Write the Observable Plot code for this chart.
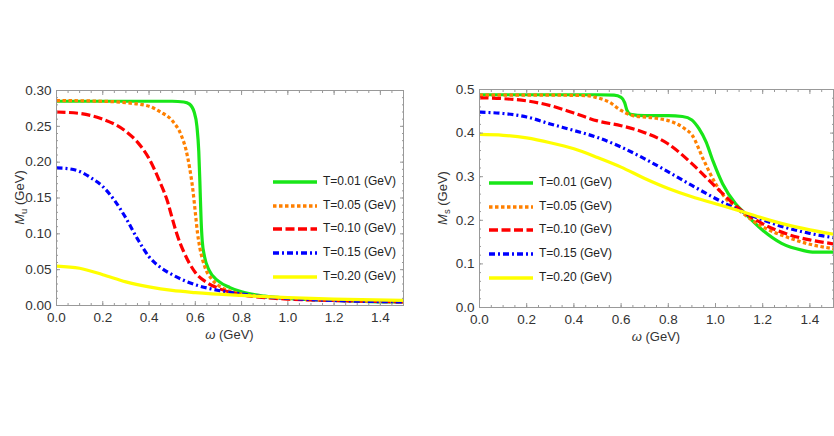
<!DOCTYPE html>
<html>
<head>
<meta charset="utf-8">
<script src="https://cdn.jsdelivr.net/npm/d3@7"></script>
<script src="https://cdn.jsdelivr.net/npm/@observablehq/plot@0.6"></script>
<style>
  html, body { margin: 0; padding: 0; background: #fff; }
  #wrap { position: relative; width: 834px; height: 436px; overflow: hidden; font-family: "Liberation Sans", Arial, sans-serif; }
  .panel { position: absolute; top: 0; }
  .legend { position: absolute; font-size: 12px; color: #222; }
  .legend .row { position: absolute; left: 0; height: 14px; white-space: nowrap; }
  .legend svg { position: absolute; left: 0; top: 0; }
  .legend span { position: absolute; top: -1px; line-height: 14px; }
</style>
</head>
<body>
<div id="wrap"></div>
<script>
// ---------- data ----------
const legendLabels = ["T=0.01 (GeV)", "T=0.05 (GeV)", "T=0.10 (GeV)", "T=0.15 (GeV)", "T=0.20 (GeV)"];
const seriesColors = ["#18e618", "#ff8000", "#ff0000", "#0000ff", "#ffff00"];
const seriesDash = [null, "3.5,2.5", "9,3.5", "6,3,2,3", null];

const xTicks = [0, 0.2, 0.4, 0.6, 0.8, 1.0, 1.2, 1.4];
const muTicks = [0, 0.05, 0.10, 0.15, 0.20, 0.25, 0.30];
const msTicks = [0, 0.1, 0.2, 0.3, 0.4, 0.5];

// M_u (GeV) vs omega (GeV)
const mu_T001 = [[0,0.285],[0.3,0.285],[0.5,0.285],[0.55,0.284],[0.575,0.281],[0.595,0.27],[0.607,0.25],[0.615,0.215],[0.62,0.17],[0.625,0.12],[0.63,0.09],[0.64,0.068],[0.66,0.049],[0.7,0.034],[0.75,0.025],[0.8,0.019],[0.9,0.013],[1.0,0.010],[1.1,0.008],[1.2,0.007],[1.3,0.006],[1.4,0.005],[1.5,0.005]];
const mu_T005 = [[0,0.286],[0.2,0.285],[0.3,0.283],[0.4,0.278],[0.45,0.27],[0.5,0.258],[0.54,0.237],[0.56,0.217],[0.575,0.193],[0.59,0.16],[0.6,0.13],[0.61,0.1],[0.62,0.08],[0.64,0.055],[0.67,0.037],[0.7,0.028],[0.76,0.019],[0.8,0.016],[0.9,0.012],[1.0,0.0095],[1.2,0.007],[1.5,0.005]];
const mu_T010 = [[0,0.270],[0.1,0.268],[0.2,0.26],[0.3,0.243],[0.35,0.228],[0.4,0.205],[0.45,0.17],[0.48,0.145],[0.5,0.122],[0.52,0.1],[0.55,0.075],[0.6,0.046],[0.65,0.032],[0.7,0.024],[0.8,0.015],[0.9,0.011],[1.0,0.009],[1.2,0.007],[1.5,0.005]];
const mu_T015 = [[0,0.192],[0.05,0.191],[0.1,0.187],[0.15,0.178],[0.2,0.166],[0.25,0.147],[0.3,0.122],[0.35,0.093],[0.4,0.068],[0.45,0.053],[0.5,0.043],[0.6,0.029],[0.7,0.021],[0.8,0.016],[0.9,0.012],[1.0,0.010],[1.2,0.007],[1.5,0.005]];
const mu_T020 = [[0,0.055],[0.1,0.052],[0.2,0.043],[0.3,0.033],[0.4,0.026],[0.5,0.021],[0.6,0.018],[0.8,0.014],[1.0,0.011],[1.2,0.009],[1.5,0.007]];

// M_s (GeV) vs omega (GeV)
const ms_T001 = [[0,0.488],[0.3,0.488],[0.5,0.488],[0.57,0.487],[0.6,0.482],[0.615,0.47],[0.625,0.452],[0.64,0.443],[0.7,0.44],[0.8,0.44],[0.86,0.438],[0.9,0.43],[0.93,0.41],[0.96,0.38],[0.99,0.335],[1.03,0.284],[1.085,0.238],[1.13,0.213],[1.2,0.177],[1.28,0.147],[1.37,0.131],[1.42,0.127],[1.5,0.127]];
const ms_T005 = [[0,0.487],[0.3,0.487],[0.45,0.486],[0.5,0.481],[0.55,0.471],[0.6,0.452],[0.65,0.44],[0.75,0.434],[0.82,0.425],[0.87,0.41],[0.9,0.396],[0.95,0.338],[1.0,0.284],[1.05,0.246],[1.1,0.223],[1.2,0.185],[1.3,0.162],[1.4,0.145],[1.5,0.135]];
const ms_T010 = [[0,0.481],[0.1,0.479],[0.2,0.474],[0.3,0.463],[0.4,0.446],[0.5,0.428],[0.6,0.417],[0.7,0.401],[0.8,0.375],[0.9,0.33],[1.0,0.277],[1.1,0.227],[1.2,0.192],[1.3,0.169],[1.4,0.155],[1.5,0.146]];
const ms_T015 = [[0,0.448],[0.1,0.445],[0.2,0.437],[0.3,0.421],[0.4,0.406],[0.5,0.39],[0.6,0.368],[0.7,0.341],[0.8,0.311],[0.9,0.28],[1.0,0.25],[1.1,0.223],[1.2,0.201],[1.3,0.183],[1.4,0.17],[1.5,0.16]];
const ms_T020 = [[0,0.397],[0.1,0.395],[0.2,0.389],[0.3,0.378],[0.4,0.364],[0.5,0.344],[0.6,0.322],[0.7,0.296],[0.8,0.273],[0.9,0.254],[1.0,0.238],[1.1,0.222],[1.2,0.205],[1.3,0.19],[1.4,0.178],[1.5,0.168]];

const muSeries = [mu_T001, mu_T005, mu_T010, mu_T015, mu_T020];
const msSeries = [ms_T001, ms_T005, ms_T010, ms_T015, ms_T020];

// ---------- drawing ----------
const wrap = document.getElementById("wrap");
const tickColor = "#999";
const labelColor = "#333";

function makePanel({series, yDomain, yTicks, yMinorStep, yFmt, left, margins}) {
  const xMinor = d3.range(0, 1.5001, 0.05).map(v => +v.toFixed(3));
  const yMinor = d3.range(yDomain[0], yDomain[1] + 1e-9, yMinorStep).map(v => +v.toFixed(3));
  const marks = [];
  series.forEach((s, i) => {
    marks.push(Plot.line(s, {
      x: d => d[0], y: d => d[1],
      stroke: seriesColors[i], strokeWidth: 3.2,
      strokeDasharray: seriesDash[i] || undefined,
      strokeLinecap: "butt", strokeLinejoin: "round",
      curve: "monotone-x", clip: true
    }));
  });
  marks.push(Plot.frame({stroke: tickColor, strokeWidth: 1}));
  // tick labels
  marks.push(Plot.axisX({anchor: "bottom", ticks: xTicks, tickFormat: d3.format(".1f"), tickSize: 0, tickPadding: 7, label: null, fill: labelColor, fontSize: 13.5}));
  marks.push(Plot.axisY({anchor: "left", ticks: yTicks, tickFormat: d3.format(yFmt), tickSize: 0, tickPadding: 5, label: null, fill: labelColor, fontSize: 13.5}));
  // inward major/minor ticks on all four sides
  const noText = () => "";
  for (const [anchor, dy] of [["bottom", -4], ["top", 4]]) {
    marks.push(Plot.axisX({anchor, ticks: xTicks, tickSize: 4, dy, tickFormat: noText, label: null, stroke: tickColor}));
    marks.push(Plot.axisX({anchor, ticks: xMinor, tickSize: 2, dy: dy / 2, tickFormat: noText, label: null, stroke: tickColor}));
  }
  for (const [anchor, dx] of [["left", 4], ["right", -4]]) {
    marks.push(Plot.axisY({anchor, ticks: yTicks, tickSize: 4, dx, tickFormat: noText, label: null, stroke: tickColor}));
    marks.push(Plot.axisY({anchor, ticks: yMinor, tickSize: 2, dx: dx / 2, tickFormat: noText, label: null, stroke: tickColor}));
  }
  const svg = Plot.plot({
    width: 417, height: 436,
    marginLeft: margins[0], marginRight: margins[1], marginTop: margins[2], marginBottom: margins[3],
    x: {domain: [0, 1.5]},
    y: {domain: yDomain},
    style: {fontFamily: "'Liberation Sans', Arial, sans-serif", fontSize: "13px", background: "transparent", overflow: "visible"},
    marks
  });
  const div = document.createElement("div");
  div.className = "panel";
  div.style.left = left + "px";
  div.appendChild(svg);
  wrap.appendChild(div);
  return svg;
}

function addLabels(svg, sub, margins) {
  const s = d3.select(svg);
  const plotL = margins[0], plotR = 417 - margins[1], plotT = margins[2], plotB = 436 - margins[3];
  const xl = s.append("text")
    .attr("x", (plotL + plotR) / 2).attr("y", plotB + 34)
    .attr("text-anchor", "middle").attr("fill", labelColor)
    .style("font-size", "13px");
  xl.append("tspan").style("font-style", "italic").text("ω");
  xl.append("tspan").text(" (GeV)");
  const yl = s.append("text")
    .attr("transform", `translate(${plotL - 32},${(plotT + plotB) / 2}) rotate(-90)`)
    .attr("text-anchor", "middle").attr("fill", labelColor)
    .style("font-size", "13px");
  yl.append("tspan").style("font-style", "italic").text("M");
  yl.append("tspan").style("font-size", "9.5px").attr("dy", 3).text(sub);
  yl.append("tspan").attr("dy", -3).text(" (GeV)");
}

function addLegend(left, top) {
  const lg = document.createElement("div");
  lg.className = "legend";
  lg.style.left = left + "px";
  lg.style.top = top + "px";
  legendLabels.forEach((lab, i) => {
    const row = document.createElement("div");
    row.className = "row";
    row.style.top = (i * 23.7) + "px";
    const svgns = "http://www.w3.org/2000/svg";
    const sv = document.createElementNS(svgns, "svg");
    sv.setAttribute("width", 46); sv.setAttribute("height", 14);
    const ln = document.createElementNS(svgns, "line");
    ln.setAttribute("x1", 1); ln.setAttribute("x2", 45);
    ln.setAttribute("y1", 7); ln.setAttribute("y2", 7);
    ln.setAttribute("stroke", seriesColors[i]);
    ln.setAttribute("stroke-width", 3.5);
    if (seriesDash[i]) ln.setAttribute("stroke-dasharray", seriesDash[i]);
    sv.appendChild(ln);
    row.appendChild(sv);
    const sp = document.createElement("span");
    sp.style.left = "51px";
    sp.textContent = lab;
    row.appendChild(sp);
    lg.appendChild(row);
  });
  wrap.appendChild(lg);
}

const mL = [56, 14, 90, 131];
const svgL = makePanel({series: muSeries, yDomain: [0, 0.30], yTicks: muTicks, yMinorStep: 0.01, yFmt: ".2f", left: 0, margins: mL});
addLabels(svgL, "u", mL);
const mR = [62, 1, 89, 129];
const svgR = makePanel({series: msSeries, yDomain: [0, 0.5], yTicks: msTicks, yMinorStep: 0.02, yFmt: ".1f", left: 417, margins: mR});
addLabels(svgR, "s", mR);

addLegend(272, 175);
addLegend(488, 176);
</script>
</body>
</html>
